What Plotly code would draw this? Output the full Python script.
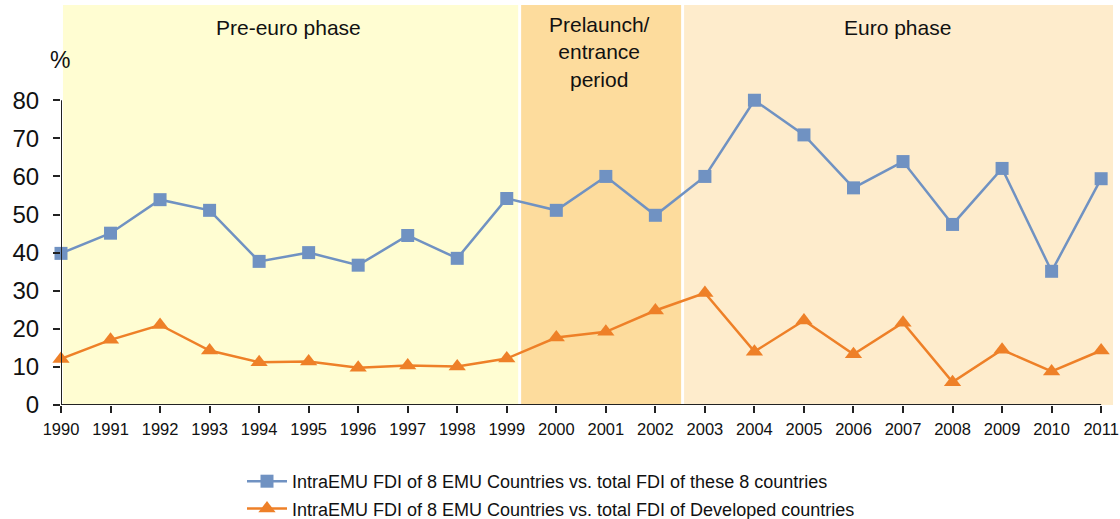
import plotly.graph_objects as go

years = list(range(1990, 2012))
intra_emu_own = [39.8, 45.1, 53.9, 51.1, 37.7, 40.0, 36.7, 44.5, 38.5, 54.2,
                 51.1, 60.0, 49.8, 60.0, 80.0, 70.9, 57.0, 63.9, 47.4, 62.1,
                 35.1, 59.4]
intra_emu_dev = [12.1, 17.1, 21.0, 14.3, 11.2, 11.4, 9.8, 10.4, 10.1, 12.2,
                 17.7, 19.2, 24.8, 29.4, 14.0, 22.2, 13.3, 21.6, 6.0, 14.5,
                 8.8, 14.3]
series_names = ["IntraEMU FDI of 8 EMU Countries vs. total FDI of these 8 countries",
                "IntraEMU FDI of 8 EMU Countries vs. total FDI of Developed countries"]
phases = [("Pre-euro phase", 1990.04, 1999.23, "#FFFDD2"),
          ("Prelaunch/<br>entrance<br>period", 1999.29, 2002.52, "#FDDC9D"),
          ("Euro phase", 2002.58, 2011.24, "#FEECCC")]
y_ticks = [0, 10, 20, 30, 40, 50, 60, 70, 80]

BLUE = "#7092C2"
ORANGE = "#EE8028"
FONT = "Liberation Sans, Arial, sans-serif"

fig = go.Figure()
fig.add_trace(go.Scatter(x=years, y=intra_emu_own, mode="lines+markers", name=series_names[0],
                         line=dict(color=BLUE, width=2.5),
                         marker=dict(symbol="square", size=13, color=BLUE),
                         cliponaxis=False, legendgroup="a"))
fig.add_trace(go.Scatter(x=years, y=intra_emu_dev, mode="lines+markers", name=series_names[1],
                         line=dict(color=ORANGE, width=2.5),
                         marker=dict(symbol="triangle-up", size=15, color=ORANGE),
                         cliponaxis=False, legendgroup="b"))

shapes = []
annotations = []
label_pos = [(1994.6, 0.945), (2000.88, 0.8825), (2006.88, 0.945)]
for (label, x0, x1, col), (lx, ly) in zip(phases, label_pos):
    shapes.append(dict(type="rect", xref="x", yref="y", x0=x0, x1=x1, y0=0, y1=105,
                       fillcolor=col, line=dict(width=0), layer="below"))
    annotations.append(dict(text=label, x=lx, y=ly, xref="x", yref="paper", showarrow=False,
                            font=dict(size=21, color="#111111", family=FONT),
                            xanchor="center", yanchor="middle"))
# axis lines
shapes.append(dict(type="line", xref="x", yref="y", x0=years[0], x1=years[-1], y0=0, y1=0,
                   line=dict(color="#222222", width=2), layer="above"))
shapes.append(dict(type="line", xref="x", yref="y", x0=years[0], x1=years[0], y0=0, y1=80,
                   line=dict(color="#222222", width=2), layer="above"))
annotations.append(dict(text="%", xref="paper", x=(60 - 61) / 1055, yref="paper",
                        y=(405 - 60) / 400, xanchor="center", yanchor="middle",
                        showarrow=False, font=dict(size=23, color="#111111", family=FONT)))

fig.update_layout(
    width=1120, height=519,
    margin=dict(l=61, r=4, t=5, b=114, autoexpand=False),
    paper_bgcolor="white", plot_bgcolor="white",
    font=dict(family=FONT, color="#111111"),
    shapes=shapes, annotations=annotations,
    showlegend=True,
    legend=dict(x=(242 - 61) / 1055, y=(405 - 463) / 400, xanchor="left", yanchor="top",
                font=dict(size=18, family=FONT, color="#111111"),
                traceorder="grouped", tracegroupgap=1, itemwidth=40,
                bgcolor="rgba(0,0,0,0)"),
    xaxis=dict(range=[1990, 2011.3], tickmode="array", tickvals=years, automargin=False,
               ticktext=[str(y) for y in years], ticks="outside", ticklen=7, tickwidth=1.5,
               tickcolor="#222222", showgrid=False, zeroline=False, showline=False,
               tickfont=dict(size=16.5, family=FONT, color="#111111"), ticklabelstandoff=2),
    yaxis=dict(range=[0, 105], tickmode="array", tickvals=y_ticks, ticks="outside", ticklen=7,
               automargin=False,
               tickwidth=1.5, tickcolor="#222222", showgrid=False, zeroline=False, showline=False,
               tickfont=dict(size=24, family=FONT, color="#111111"), ticklabelstandoff=9),
)

fig.write_html("out.html", config={"displayModeBar": False},
               post_script="document.body.style.margin='0px';document.body.style.overflow='hidden';")
